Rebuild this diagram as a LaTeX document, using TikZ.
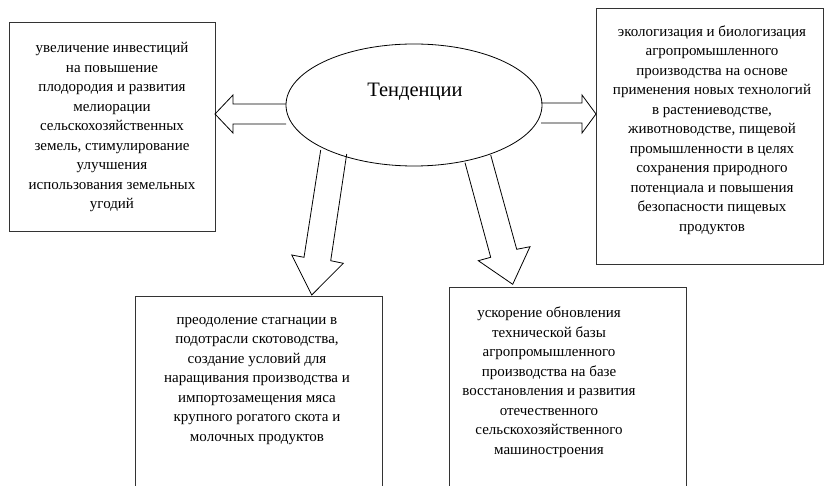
\documentclass[tikz,border=0pt]{standalone}
\usepackage{fontspec}
\setmainfont{Liberation Serif}
\usetikzlibrary{calc,shapes.geometric}
\begin{document}
\begin{tikzpicture}[x=1pt,y=-1pt,
  box/.style={draw=black!80,line width=1pt,rectangle,inner sep=0pt},
  txt/.style={align=center,inner sep=0pt,font=\fontsize{15}{19.5}\selectfont},
  blockarrow/.style={draw=black,line width=0.8pt,fill=white,line join=miter}]
\useasboundingbox (0,0) rectangle (826,486);
\clip (0,0) rectangle (826,486);
% boxes
\node[box,minimum width=206pt,minimum height=208pt] (b1) at (112,127) {};
\node[box,minimum width=227pt,minimum height=255pt] (b2) at (709.5,136.5) {};
\node[box,minimum width=247pt,minimum height=240pt] (b3) at (258.5,416) {};
\node[box,minimum width=237pt,minimum height=250pt] (b4) at (567.5,412) {};
% texts
\node[txt] (t1) at (112,127) {увеличение инвестиций\\на повышение\\плодородия и развития\\мелиорации\\сельскохозяйственных\\земель, стимулирование\\улучшения\\использования земельных\\угодий};
\node[txt] (t2) at (712,130) {экологизация и биологизация\\агропромышленного\\производства на основе\\применения новых технологий\\в растениеводстве,\\животноводстве, пищевой\\промышленности в целях\\сохранения  природного\\потенциала и повышения\\безопасности пищевых\\продуктов};
\node[txt] (t3) at (257,381) {преодоление стагнации в\\подотрасли скотоводства,\\создание условий для\\наращивания производства и\\импортозамещения  мяса\\крупного рогатого скота и\\молочных продуктов};
\node[txt] (t4) at (549,382) {ускорение обновления\\технической базы\\агропромышленного\\производства на базе\\восстановления и развития\\отечественного\\сельскохозяйственного\\машиностроения};
% block arrows
\draw[blockarrow] (286,104) -- (233,104) -- (233,95) -- (215,114) -- (233,133) -- (233,124) -- (286,124);
\draw[blockarrow] (541,103) -- (582,103) -- (582,95) -- (596,114) -- (582,133) -- (582,123) -- (541,123);
\draw[blockarrow] (320.7,150) -- (304,257.3) -- (291.7,255) -- (311.7,295) -- (343.3,263.3) -- (330.7,260.7) -- (346.7,154);
\draw[blockarrow] (465,162.7) -- (490.7,257.3) -- (478.3,260.7) -- (512.7,284.3) -- (530,246.7) -- (516.7,249.3) -- (490.7,155);
% ellipse
\node[draw=black,line width=0.8pt,ellipse,minimum width=256pt,minimum height=122pt,inner sep=0pt] (e) at (414,105) {};
\node[inner sep=0pt,font=\fontsize{20.5}{24}\selectfont] (et) at (415,92) {Тенденции};
\end{tikzpicture}
\end{document}
